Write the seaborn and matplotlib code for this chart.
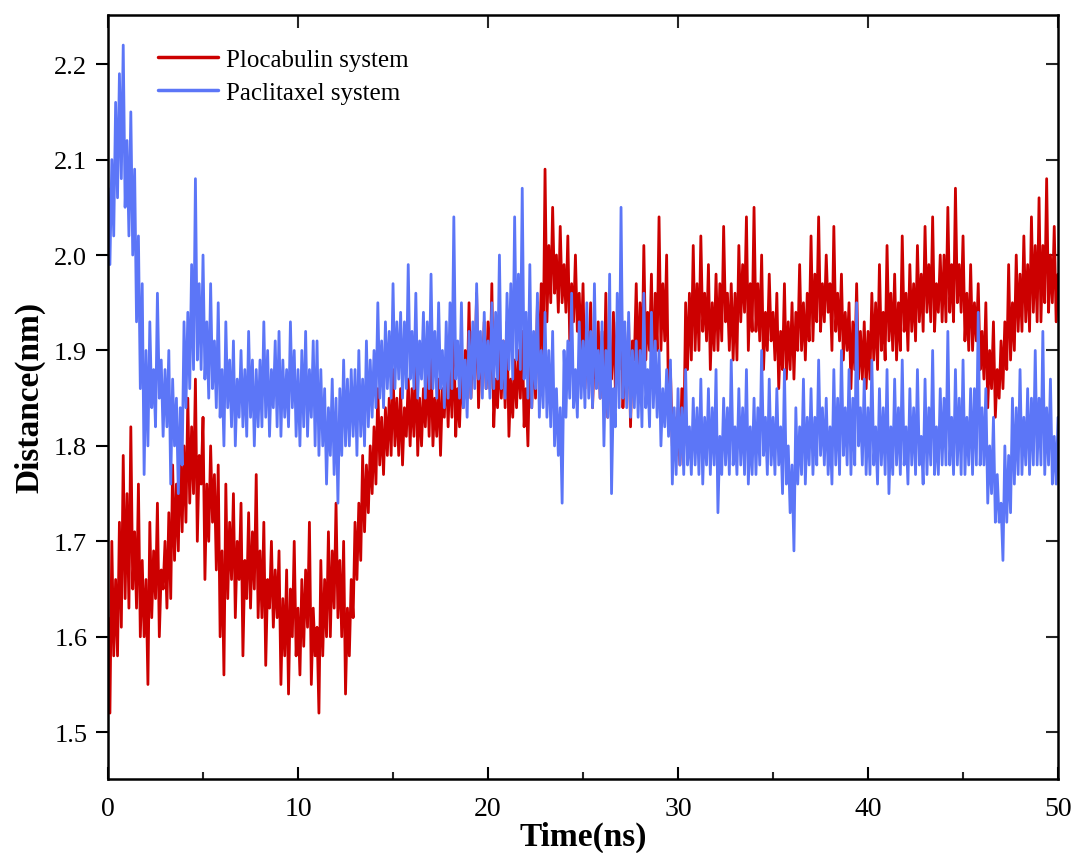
import matplotlib
matplotlib.use("Agg")
import matplotlib.pyplot as plt
from matplotlib.ticker import MultipleLocator, FormatStrFormatter
import seaborn as sns
import numpy as np
import pandas as pd

# time axis: 0-50 ns, one reading every 0.1 ns
time_ns = np.round(np.arange(0, 50.0001, 0.1), 1)

# Plocabulin system distance (nm)
plocabulin = [
    1.62, 1.52, 1.70, 1.58, 1.66, 1.58, 1.72, 1.61, 1.79, 1.64,   # 0-1
    1.75, 1.63, 1.82, 1.65, 1.71, 1.63, 1.76, 1.60, 1.68, 1.60,   # 1-2
    1.66, 1.55, 1.72, 1.62, 1.69, 1.64, 1.74, 1.60, 1.67, 1.65,   # 2-3
    1.70, 1.63, 1.73, 1.64, 1.78, 1.68, 1.76, 1.69, 1.80, 1.71,   # 3-4
    1.80, 1.72, 1.85, 1.74, 1.82, 1.75, 1.87, 1.70, 1.79, 1.76,   # 4-5
    1.83, 1.66, 1.76, 1.70, 1.80, 1.72, 1.77, 1.67, 1.78, 1.60,   # 5-6
    1.69, 1.56, 1.76, 1.64, 1.72, 1.66, 1.75, 1.62, 1.70, 1.66,   # 6-7
    1.74, 1.58, 1.68, 1.64, 1.73, 1.63, 1.71, 1.65, 1.77, 1.62,   # 7-8
    1.69, 1.62, 1.72, 1.57, 1.66, 1.63, 1.70, 1.61, 1.67, 1.62,   # 8-9
    1.69, 1.55, 1.64, 1.58, 1.67, 1.54, 1.65, 1.60, 1.70, 1.58,   # 9-10
    1.63, 1.56, 1.66, 1.59, 1.67, 1.61, 1.72, 1.55, 1.63, 1.58,   # 10-11
    1.61, 1.52, 1.68, 1.58, 1.66, 1.60, 1.71, 1.60, 1.69, 1.63,   # 11-12
    1.74, 1.62, 1.68, 1.60, 1.70, 1.54, 1.63, 1.58, 1.66, 1.62,   # 12-13
    1.72, 1.66, 1.74, 1.68, 1.79, 1.71, 1.78, 1.73, 1.80, 1.75,   # 13-14
    1.82, 1.76, 1.86, 1.78, 1.83, 1.77, 1.84, 1.79, 1.85, 1.79,   # 14-15
    1.88, 1.80, 1.85, 1.79, 1.86, 1.78, 1.84, 1.81, 1.87, 1.80,   # 15-16
    1.86, 1.81, 1.89, 1.79, 1.85, 1.80, 1.86, 1.82, 1.88, 1.81,   # 16-17
    1.90, 1.80, 1.85, 1.81, 1.87, 1.79, 1.86, 1.83, 1.89, 1.82,   # 17-18
    1.89, 1.83, 1.92, 1.81, 1.86, 1.82, 1.88, 1.84, 1.90, 1.85,   # 18-19
    1.95, 1.85, 1.92, 1.87, 1.96, 1.84, 1.90, 1.87, 1.93, 1.86,   # 19-20
    1.93, 1.86, 1.97, 1.82, 1.87, 1.84, 1.90, 1.85, 1.91, 1.84,   # 20-21
    1.93, 1.81, 1.87, 1.83, 1.89, 1.84, 1.90, 1.85, 1.92, 1.82,   # 21-22
    1.86, 1.80, 1.90, 1.84, 1.91, 1.85, 1.95, 1.88, 1.97, 1.89,   # 22-23
    2.09, 1.93, 2.01, 1.95, 2.05, 1.96, 2.00, 1.94, 2.03, 1.95,   # 23-24
    1.99, 1.94, 2.02, 1.91, 1.97, 1.93, 2.00, 1.92, 1.96, 1.90,   # 24-25
    1.97, 1.86, 1.92, 1.88, 1.95, 1.84, 1.90, 1.87, 1.93, 1.85,   # 25-26
    1.92, 1.85, 1.96, 1.83, 1.90, 1.87, 1.94, 1.86, 1.93, 1.88,   # 26-27
    1.98, 1.84, 1.90, 1.86, 1.93, 1.82, 1.91, 1.89, 1.97, 1.87,   # 27-28
    1.95, 1.87, 2.01, 1.89, 1.94, 1.90, 1.98, 1.86, 1.96, 1.90,   # 28-29
    2.04, 1.90, 1.97, 1.91, 2.00, 1.84, 1.88, 1.80, 1.83, 1.79,   # 29-30
    1.84, 1.78, 1.86, 1.80, 1.95, 1.88, 1.96, 1.89, 2.01, 1.90,   # 30-31
    1.97, 1.90, 2.02, 1.92, 1.96, 1.91, 1.99, 1.88, 1.95, 1.90,   # 31-32
    1.98, 1.90, 1.97, 1.91, 2.03, 1.93, 1.96, 1.90, 1.97, 1.89,   # 32-33
    1.96, 1.89, 2.01, 1.93, 1.99, 1.94, 2.04, 1.90, 1.97, 1.92,   # 33-34
    2.05, 1.92, 1.97, 1.91, 2.00, 1.88, 1.94, 1.90, 1.98, 1.91,   # 34-35
    1.94, 1.89, 1.96, 1.86, 1.92, 1.88, 1.97, 1.87, 1.93, 1.88,   # 35-36
    1.95, 1.87, 1.94, 1.90, 1.99, 1.90, 1.95, 1.89, 1.96, 1.91,   # 36-37
    2.02, 1.91, 1.98, 1.93, 2.04, 1.92, 1.97, 1.93, 2.00, 1.94,   # 37-38
    1.97, 1.90, 2.03, 1.92, 1.96, 1.91, 1.98, 1.89, 1.94, 1.90,   # 38-39
    1.95, 1.86, 1.93, 1.88, 1.97, 1.87, 1.92, 1.87, 1.93, 1.86,   # 39-40
    1.92, 1.87, 1.96, 1.89, 1.95, 1.88, 1.99, 1.90, 1.94, 1.89,   # 40-41
    2.01, 1.91, 1.96, 1.90, 1.98, 1.89, 1.95, 1.90, 2.02, 1.92,   # 41-42
    1.96, 1.90, 1.99, 1.92, 1.97, 1.91, 2.01, 1.93, 1.98, 1.92,   # 42-43
    2.03, 1.94, 1.99, 1.93, 2.04, 1.92, 1.97, 1.94, 2.00, 1.93,   # 43-44
    2.00, 1.93, 2.05, 1.94, 1.99, 1.93, 2.07, 1.95, 1.99, 1.94,   # 44-45
    2.02, 1.91, 1.96, 1.90, 1.99, 1.90, 1.95, 1.91, 1.97, 1.88,   # 45-46
    1.92, 1.87, 1.95, 1.84, 1.90, 1.86, 1.93, 1.83, 1.88, 1.85,   # 46-47
    1.91, 1.86, 1.93, 1.88, 1.99, 1.89, 1.95, 1.90, 2.00, 1.92,   # 47-48
    1.98, 1.92, 2.02, 1.93, 1.99, 1.92, 2.04, 1.94, 2.01, 1.93,   # 48-49
    2.06, 1.93, 2.01, 1.95, 2.08, 1.94, 2.00, 1.95, 2.03, 1.93,   # 49-50
    1.98,
]

# Paclitaxel system distance (nm)
paclitaxel = [
    2.07, 1.99, 2.10, 2.02, 2.16, 2.06, 2.19, 2.08, 2.22, 2.05,   # 0-1
    2.12, 2.02, 2.15, 2.00, 2.09, 1.93, 2.02, 1.86, 1.97, 1.77,   # 1-2
    1.90, 1.80, 1.93, 1.84, 1.88, 1.82, 1.96, 1.85, 1.89, 1.81,   # 2-3
    1.88, 1.82, 1.90, 1.76, 1.87, 1.80, 1.85, 1.75, 1.84, 1.78,   # 3-4
    1.93, 1.84, 1.94, 1.86, 1.99, 1.88, 2.08, 1.89, 1.97, 1.88,   # 4-5
    2.00, 1.87, 1.93, 1.85, 1.97, 1.86, 1.91, 1.84, 1.95, 1.83,   # 5-6
    1.88, 1.80, 1.93, 1.84, 1.89, 1.82, 1.91, 1.80, 1.87, 1.83,   # 6-7
    1.90, 1.82, 1.88, 1.81, 1.92, 1.83, 1.89, 1.80, 1.88, 1.82,   # 7-8
    1.89, 1.82, 1.93, 1.83, 1.90, 1.81, 1.88, 1.84, 1.91, 1.82,   # 8-9
    1.92, 1.81, 1.89, 1.83, 1.88, 1.82, 1.93, 1.84, 1.90, 1.81,   # 9-10
    1.88, 1.80, 1.90, 1.82, 1.92, 1.81, 1.88, 1.83, 1.91, 1.80,   # 10-11
    1.91, 1.79, 1.88, 1.80, 1.86, 1.76, 1.84, 1.79, 1.87, 1.77,   # 11-12
    1.85, 1.74, 1.86, 1.79, 1.89, 1.80, 1.87, 1.80, 1.88, 1.81,   # 12-13
    1.88, 1.79, 1.90, 1.81, 1.87, 1.80, 1.91, 1.82, 1.89, 1.83,   # 13-14
    1.90, 1.84, 1.95, 1.85, 1.91, 1.84, 1.93, 1.86, 1.92, 1.85,   # 14-15
    1.97, 1.86, 1.93, 1.87, 1.94, 1.85, 1.93, 1.86, 1.99, 1.87,   # 15-16
    1.92, 1.86, 1.96, 1.85, 1.91, 1.87, 1.94, 1.85, 1.93, 1.86,   # 16-17
    1.98, 1.86, 1.92, 1.85, 1.95, 1.86, 1.90, 1.84, 1.93, 1.85,   # 17-18
    1.95, 1.86, 2.04, 1.87, 1.91, 1.85, 1.95, 1.84, 1.89, 1.83,   # 18-19
    1.92, 1.85, 1.93, 1.86, 1.97, 1.87, 1.92, 1.85, 1.94, 1.86,   # 19-20
    1.91, 1.85, 1.95, 1.86, 1.94, 1.87, 2.00, 1.86, 1.91, 1.85,   # 20-21
    1.96, 1.88, 1.97, 1.87, 2.04, 1.89, 1.98, 1.88, 2.07, 1.87,   # 21-22
    1.94, 1.85, 1.99, 1.84, 1.92, 1.86, 1.96, 1.83, 1.90, 1.84,   # 22-23
    1.94, 1.83, 1.90, 1.82, 1.92, 1.80, 1.86, 1.79, 1.84, 1.74,   # 23-24
    1.90, 1.83, 1.91, 1.85, 1.96, 1.84, 1.88, 1.83, 1.93, 1.85,   # 24-25
    1.91, 1.84, 1.95, 1.85, 1.92, 1.84, 1.97, 1.86, 1.90, 1.85,   # 25-26
    1.93, 1.80, 1.90, 1.83, 1.98, 1.75, 1.86, 1.82, 1.96, 1.84,   # 26-27
    2.05, 1.85, 1.93, 1.84, 1.94, 1.83, 1.90, 1.84, 1.91, 1.83,   # 27-28
    1.90, 1.82, 1.96, 1.84, 1.88, 1.82, 1.94, 1.84, 1.91, 1.83,   # 28-29
    1.90, 1.80, 1.86, 1.82, 1.88, 1.81, 1.89, 1.76, 1.84, 1.77,   # 29-30
    1.86, 1.78, 1.84, 1.77, 1.88, 1.78, 1.82, 1.77, 1.85, 1.78,   # 30-31
    1.84, 1.77, 1.87, 1.76, 1.83, 1.78, 1.86, 1.77, 1.84, 1.78,   # 31-32
    1.88, 1.73, 1.81, 1.77, 1.85, 1.78, 1.84, 1.77, 1.89, 1.78,   # 32-33
    1.82, 1.77, 1.86, 1.78, 1.84, 1.77, 1.88, 1.76, 1.82, 1.77,   # 33-34
    1.85, 1.77, 1.84, 1.78, 1.90, 1.79, 1.83, 1.77, 1.87, 1.78,   # 34-35
    1.83, 1.77, 1.86, 1.78, 1.82, 1.75, 1.88, 1.76, 1.80, 1.73,   # 35-36
    1.78, 1.69, 1.84, 1.76, 1.82, 1.77, 1.87, 1.76, 1.83, 1.78,   # 36-37
    1.86, 1.77, 1.83, 1.78, 1.89, 1.79, 1.84, 1.78, 1.85, 1.77,   # 37-38
    1.82, 1.76, 1.88, 1.78, 1.85, 1.77, 1.90, 1.79, 1.84, 1.78,   # 38-39
    1.88, 1.77, 1.85, 1.78, 1.95, 1.80, 1.84, 1.78, 1.87, 1.77,   # 39-40
    1.84, 1.77, 1.89, 1.78, 1.82, 1.76, 1.86, 1.78, 1.84, 1.77,   # 40-41
    1.88, 1.75, 1.82, 1.77, 1.87, 1.78, 1.84, 1.77, 1.89, 1.78,   # 41-42
    1.82, 1.76, 1.86, 1.78, 1.84, 1.77, 1.88, 1.78, 1.81, 1.76,   # 42-43
    1.87, 1.77, 1.84, 1.78, 1.90, 1.77, 1.82, 1.77, 1.86, 1.78,   # 43-44
    1.85, 1.78, 1.92, 1.78, 1.83, 1.77, 1.88, 1.78, 1.85, 1.77,   # 44-45
    1.89, 1.77, 1.83, 1.78, 1.86, 1.77, 1.86, 1.78, 1.94, 1.78,   # 45-46
    1.84, 1.78, 1.86, 1.74, 1.80, 1.75, 1.83, 1.72, 1.77, 1.72,   # 46-47
    1.74, 1.68, 1.80, 1.72, 1.79, 1.73, 1.85, 1.76, 1.84, 1.77,   # 47-48
    1.88, 1.77, 1.83, 1.78, 1.86, 1.77, 1.85, 1.78, 1.90, 1.78,   # 48-49
    1.85, 1.78, 1.92, 1.77, 1.84, 1.78, 1.87, 1.76, 1.81, 1.76,   # 49-50
    1.83,
]

series_names = ["Plocabulin system", "Paclitaxel system"]
series_colors = ["#cc0000", "#5c76f7"]

df = pd.concat([
    pd.DataFrame({"Time": time_ns, "Distance": plocabulin, "System": series_names[0]}),
    pd.DataFrame({"Time": time_ns, "Distance": paclitaxel, "System": series_names[1]}),
], ignore_index=True)

sns.set_theme(style="white")
plt.rcParams["font.family"] = ["Liberation Serif", "DejaVu Serif"]
plt.rcParams["text.color"] = "black"
plt.rcParams["axes.labelcolor"] = "black"

fig = plt.figure(figsize=(10.77, 8.54), dpi=100)
ax = fig.add_axes([0.1003, 0.0867, 0.8821, 0.8951])

sns.lineplot(data=df, x="Time", y="Distance", hue="System", hue_order=series_names,
             palette=series_colors, estimator=None, sort=False, linewidth=2.0, ax=ax)

ax.set_xlim(0, 50)
ax.set_ylim(1.451, 2.252)
ax.xaxis.set_major_locator(MultipleLocator(10))
ax.xaxis.set_minor_locator(MultipleLocator(5))
ax.yaxis.set_major_locator(MultipleLocator(0.1))
ax.yaxis.set_major_formatter(FormatStrFormatter("%.1f"))

ax.tick_params(axis="x", which="major", direction="in", length=9, width=1.5,
               labelsize=20, pad=12, bottom=True, colors="black")
ax.tick_params(axis="x", which="minor", direction="in", length=5, width=1.5, bottom=True)
ax.tick_params(axis="y", which="major", direction="out", length=9, width=1.5,
               labelsize=19, pad=6, left=True, colors="black")

# inward ticks on the top and right frame, no labels
top = ax.secondary_xaxis("top")
top.xaxis.set_major_locator(MultipleLocator(10))
top.tick_params(direction="in", length=9, width=1.5, labeltop=False)
right = ax.secondary_yaxis("right")
right.yaxis.set_major_locator(MultipleLocator(0.1))
right.tick_params(direction="in", length=9, width=1.5, labelright=False)
for sec in (top, right):
    for sp in sec.spines.values():
        sp.set_visible(False)

for sp in ax.spines.values():
    sp.set_visible(True)
    sp.set_color("black")
    sp.set_linewidth(1.8)

ax.set_xlabel("Time(ns)", fontsize=24, fontweight="bold", labelpad=0)
ax.set_ylabel("Distance(nm)", fontsize=24, fontweight="bold", labelpad=6)

leg = ax.legend(loc="upper left", bbox_to_anchor=(0.037, 0.975), frameon=False, fontsize=18,
                handlelength=2.4, handletextpad=0.3, labelspacing=0.4, borderaxespad=0.2)
for line in leg.get_lines():
    line.set_linewidth(2.5)

fig.savefig("out.png", dpi=100)
